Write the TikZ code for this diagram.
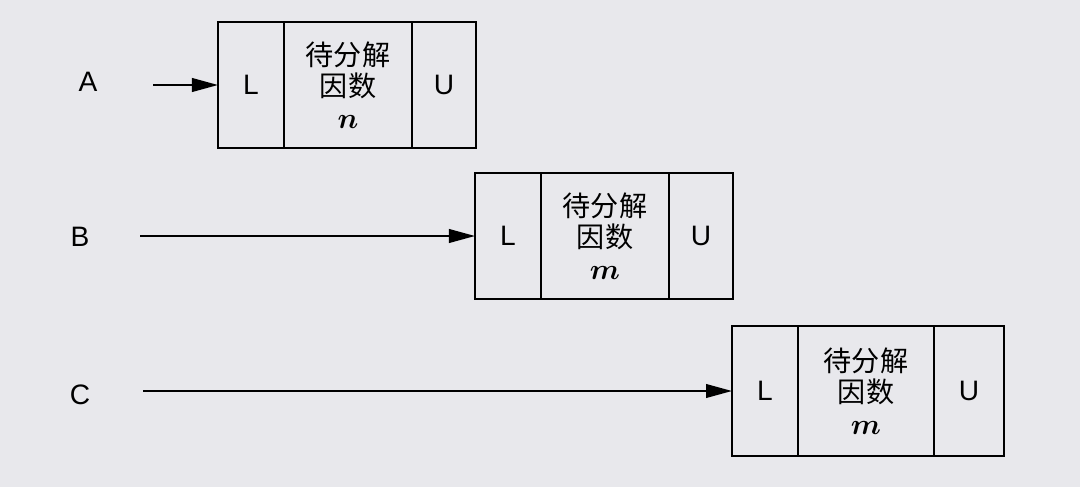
\documentclass[tikz,border=0pt]{standalone}
\usepackage{fontspec}
\usepackage{bm}
\setmainfont{Liberation Sans}
\newfontfamily\cjk{Noto Sans CJK SC}
\usetikzlibrary{positioning,arrows.meta}
\definecolor{paper}{RGB}{232,232,236}

\begin{document}
\begin{tikzpicture}[
  x=0.025cm, y=-0.025cm,
  line width=1.5pt,
  font=\fontsize{20}{22}\selectfont,
  cell/.style={draw, minimum height=3.15cm, inner sep=0pt, outer sep=0pt, anchor=west},
  lcell/.style={cell, minimum width=1.65cm},
  fcell/.style={cell, minimum width=3.2cm, align=center, font=\cjk\fontsize{20}{22.5}\selectfont},
  ucell/.style={cell, minimum width=1.6cm},
  ptr/.style={-{Triangle[length=6.5mm,width=3.4mm]}}]
  \fill[paper] (0,0) rectangle (1080,487);

  % row A
  \node (a) at (88,82) {A};
  \node[lcell] (la) at (218,85) {L};
  \node[fcell, right=0pt of la] (fa) {待分解\\因数\\$\bm{n}$};
  \node[ucell, right=0pt of fa] (ua) {U};
  \coordinate (pa) at (153,85);
  \draw[ptr] (pa) -- (la);

  % row B
  \node (b) at (80,237) {B};
  \node[lcell] (lb) at (475,236) {L};
  \node[fcell, right=0pt of lb] (fb) {待分解\\因数\\$\bm{m}$};
  \node[ucell, right=0pt of fb] (ub) {U};
  \coordinate (pb) at (140,236);
  \draw[ptr] (pb) -- (lb);

  % row C, drawn a little larger
  \node (c) at (80,395) {C};
  \node[lcell, minimum height=3.25cm] (lc) at (732,391) {L};
  \node[fcell, right=0pt of lc, minimum height=3.25cm, minimum width=3.4cm] (fc) {待分解\\因数\\$\bm{m}$};
  \node[ucell, right=0pt of fc, minimum height=3.25cm, minimum width=1.75cm] (uc) {U};
  \coordinate (pc) at (143,391);
  \draw[ptr] (pc) -- (lc);
\end{tikzpicture}
\end{document}
